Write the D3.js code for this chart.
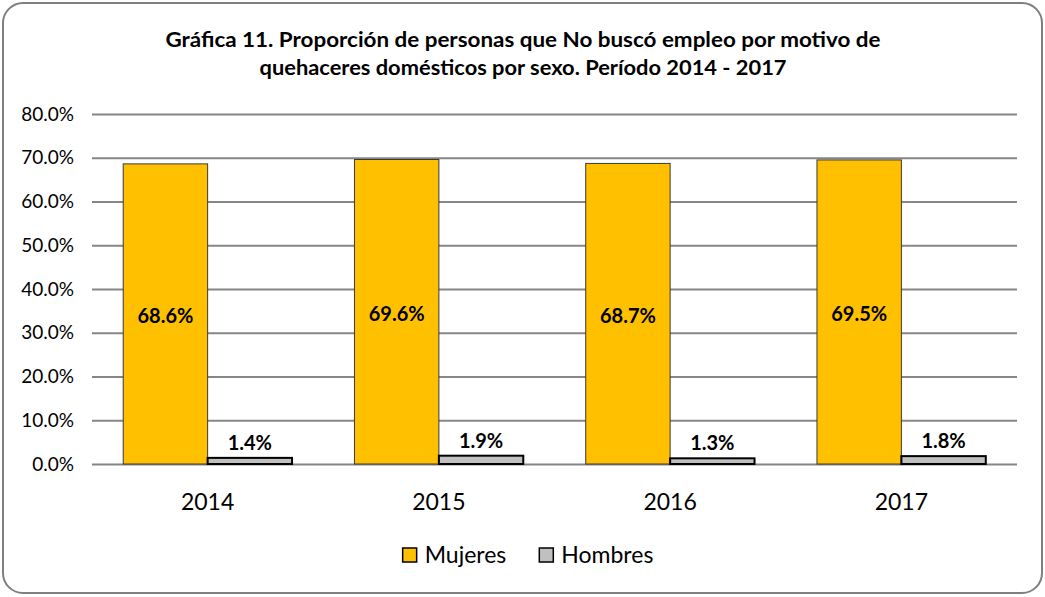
<!DOCTYPE html>
<html lang="es">
<head>
    <meta charset="utf-8">
    <title>Gráfica 11</title>
    <style>
        body { margin: 0; background: #fff; }
        text { font-family: Lato, "Open Sans", sans-serif; fill: #000; }
        .grid line { stroke: #868686; stroke-width: 2; }
    </style>
    <script src="https://cdn.jsdelivr.net/npm/d3@7"></script>
</head>
<body>
    <svg></svg>
    <script>
        // datos
        var years = ["2014", "2015", "2016", "2017"];
        var seriesNames = ["Mujeres", "Hombres"];
        var mujeres = [0.686, 0.696, 0.687, 0.695];
        var hombres = [0.014, 0.019, 0.013, 0.018];
        var yTicks = [0, 0.1, 0.2, 0.3, 0.4, 0.5, 0.6, 0.7, 0.8];
        var titleLines = [
            "Gráfica 11. Proporción de personas que No buscó empleo por motivo de",
            "quehaceres domésticos por sexo. Período 2014 - 2017"
        ];
        var colors = { Mujeres: "#FFC000", Hombres: "#C0C0C0" };
        var strokes = { Mujeres: "#3a3a3a", Hombres: "#000" };

        var W = 1045, H = 597;
        var margin = {top: 114, right: 28, bottom: 133, left: 92},
            width = W - margin.left - margin.right,
            height = H - margin.top - margin.bottom;

        var svg = d3.select("svg").attr("width", W).attr("height", H);

        // marco redondeado
        svg.append("rect")
            .attr("x", 3).attr("y", 3)
            .attr("width", 1039).attr("height", 590)
            .attr("rx", 20).attr("ry", 20)
            .attr("fill", "#fff")
            .attr("stroke", "#7f7f7f")
            .attr("stroke-width", 2);

        // título
        svg.append("g").selectAll("text")
            .data(titleLines)
            .enter().append("text")
            .attr("x", 523)
            .attr("y", function(d, i) { return 47 + i * 28; })
            .attr("text-anchor", "middle")
            .attr("font-weight", "bold")
            .attr("font-size", 20.5)
            .attr("textLength", function(d, i) { return i === 0 ? 715 : 527; })
            .attr("lengthAdjust", "spacingAndGlyphs")
            .text(function(d) { return d; });

        var g = svg.append("g")
            .attr("transform", "translate(" + margin.left + "," + margin.top + ")");

        var x0 = d3.scaleBand()
            .domain(years)
            .range([0, width])
            .paddingInner(0.27)
            .paddingOuter(0.135);
        var x1 = d3.scaleBand()
            .domain(seriesNames)
            .range([0, x0.bandwidth()]);
        var y = d3.scaleLinear()
            .domain([0, 0.8])
            .range([height, 0]);

        // líneas de división
        g.append("g")
            .attr("class", "grid")
            .call(d3.axisLeft(y).tickValues(yTicks).tickSize(-width).tickFormat(""))
            .call(function(a) { a.select(".domain").remove(); });

        // etiquetas eje y
        g.append("g")
            .call(d3.axisLeft(y).tickValues(yTicks).tickSize(0).tickPadding(18)
                .tickFormat(function(d) { return (d * 100).toFixed(1) + "%"; }))
            .call(function(a) { a.select(".domain").remove(); })
            .selectAll("text")
            .attr("font-family", "Lato, 'Open Sans', sans-serif")
            .attr("font-size", 19)
            .attr("fill", "#000");

        // eje x
        g.append("g")
            .attr("transform", "translate(0," + height + ")")
            .call(d3.axisBottom(x0).tickSize(0).tickPadding(30))
            .call(function(a) { a.select(".domain").remove(); })
            .selectAll("text")
            .attr("font-family", "Lato, 'Open Sans', sans-serif")
            .attr("font-size", 23)
            .attr("fill", "#000");

        var data = years.map(function(yr, i) {
            return { year: yr, values: [
                { key: "Mujeres", value: mujeres[i] },
                { key: "Hombres", value: hombres[i] }
            ]};
        });

        var groups = g.selectAll(".year")
            .data(data)
            .enter().append("g")
            .attr("class", "year")
            .attr("transform", function(d) { return "translate(" + x0(d.year) + ",0)"; });

        groups.selectAll("rect")
            .data(function(d) { return d.values; })
            .enter().append("rect")
            .attr("x", function(d) { return x1(d.key); })
            .attr("y", function(d) { return y(d.value); })
            .attr("width", x1.bandwidth())
            .attr("height", function(d) { return height - y(d.value); })
            .attr("fill", function(d) { return colors[d.key]; })
            .attr("stroke", function(d) { return strokes[d.key]; })
            .attr("stroke-width", function(d) { return d.key === "Hombres" ? 2 : 1; });

        // etiquetas de datos
        groups.selectAll(".lbl")
            .data(function(d) { return d.values; })
            .enter().append("text")
            .attr("class", "lbl")
            .attr("x", function(d) { return x1(d.key) + x1.bandwidth() / 2; })
            .attr("y", function(d) {
                return d.key === "Mujeres"
                    ? (y(d.value) + height) / 2 + 9
                    : y(d.value) - 8;
            })
            .attr("text-anchor", "middle")
            .attr("font-weight", "bold")
            .attr("font-size", 20)
            .text(function(d) { return (d.value * 100).toFixed(1) + "%"; });

        // leyenda
        var legend = svg.append("g");
        var items = legend.selectAll("g")
            .data(seriesNames)
            .enter().append("g");
        items.append("rect")
            .attr("width", 14).attr("height", 14)
            .attr("y", -14)
            .attr("fill", function(d) { return colors[d]; })
            .attr("stroke", "#000")
            .attr("stroke-width", 1.5);
        items.append("text")
            .attr("x", 22)
            .attr("y", 1)
            .attr("font-size", 23)
            .text(function(d) { return d; });
        var offset = 0;
        items.each(function() {
            var w = d3.select(this).select("text").node().getComputedTextLength() + 22;
            d3.select(this).attr("transform", "translate(" + offset + ",0)");
            offset += w + 33;
        });
        var total = offset - 33;
        legend.attr("transform", "translate(" + (528 - total / 2) + ",562)");
    </script>
</body>
</html>
